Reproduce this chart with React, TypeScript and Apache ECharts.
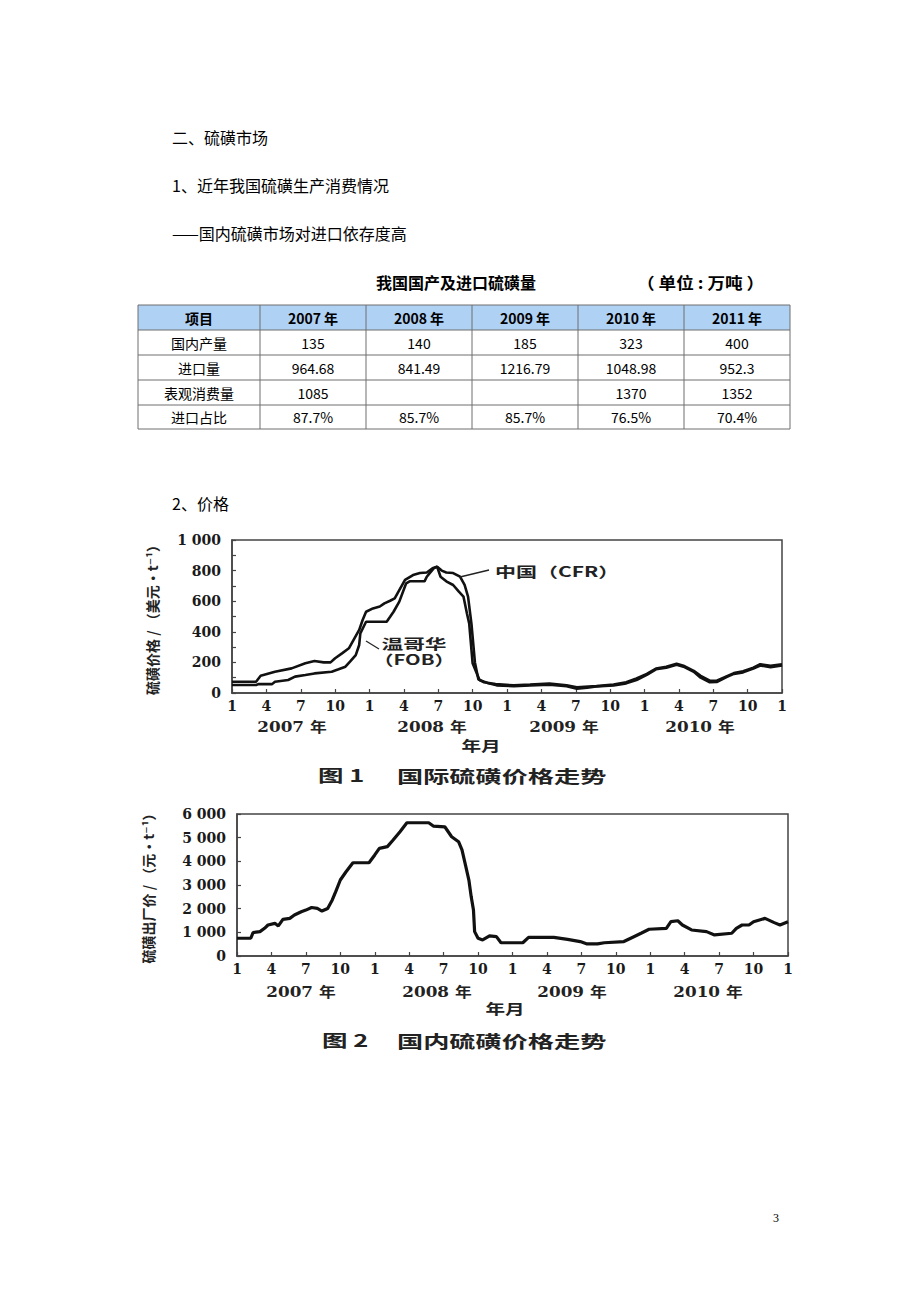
import React, { useEffect, useRef } from "react";
import * as echarts from "echarts";

// ---------- text content ----------
const headingLines = ["二、硫磺市场", "1、近年我国硫磺生产消费情况", "——国内硫磺市场对进口依存度高"];
const priceHeading = "2、价格";
const tableTitle = "我国国产及进口硫磺量";
const tableUnit = "（ 单位 : 万吨 ）";
const tableHeader = ["项目", "2007 年", "2008 年", "2009 年", "2010 年", "2011 年"];
const rowNames = ["国内产量", "进口量", "表观消费量", "进口占比"];
const domesticOutput = [135, 140, 185, 323, 400];
const importVolume = [964.68, 841.49, 1216.79, 1048.98, 952.3];
const apparentConsumption: (number | null)[] = [1085, null, null, 1370, 1352];
const importShare = [87.7, 85.7, 85.7, 76.5, 70.4];

const yearLabels = ["2007 年", "2008 年", "2009 年", "2010 年"];
const xAxisTitle = "年月";
const chart1YName = "硫磺价格 / （美元·t⁻¹）";
const chart2YName = "硫磺出厂价 / （元·t⁻¹）";
const chart1Caption = ["图 1", "国际硫磺价格走势"];
const chart2Caption = ["图 2", "国内硫磺价格走势"];
const cfrLabel = "中国（CFR）";
const fobLabel = ["温哥华", "（FOB）"];
const pageNumber = "3";

// ---------- series: [month index from Jan 2007, price] ----------
const cfrPrices: [number, number][] = [
  [0, 74], [2.1, 74], [2.5, 113], [3.75, 139], [5.2, 161], [6.4, 194], [7.2, 209], [8.0, 200],
  [8.6, 200], [9.0, 227], [9.6, 259], [10.2, 292], [10.6, 346], [11.1, 412], [11.4, 477], [11.7, 531],
  [12.3, 553], [12.9, 565], [13.3, 586], [13.8, 603], [14.2, 619], [14.6, 673], [15.1, 739], [15.8, 771],
  [16.4, 784], [17.0, 788], [17.5, 815], [17.9, 826], [18.3, 800], [18.7, 788], [19.3, 784], [19.9, 760],
  [20.3, 706], [20.6, 630], [20.9, 450], [21.2, 200], [21.5, 90], [22.0, 70], [23.0, 58], [24.6, 50],
  [26.0, 55], [27.7, 62], [29.2, 50], [30.1, 38], [31.8, 45], [33.3, 55], [34.4, 70], [35.3, 95],
  [36.2, 125], [37.0, 160], [37.9, 172], [38.8, 192], [39.4, 178], [40.3, 145], [40.9, 112], [41.7, 80],
  [42.3, 80], [43.2, 110], [43.8, 130], [44.6, 142], [45.5, 165], [46.1, 188], [47.0, 178], [48, 188],
];
const fobPrices: [number, number][] = [
  [0, 52], [2.1, 52], [2.3, 58], [3.5, 58], [3.75, 74], [4.9, 85], [5.5, 107], [6.4, 118], [7.2, 128],
  [8.7, 139], [9.3, 155], [9.9, 172], [10.3, 205], [10.8, 248], [11.1, 314], [11.2, 390], [11.7, 466],
  [13.5, 466], [13.8, 498], [14.1, 531], [14.6, 597], [15.2, 717], [15.5, 730], [16.8, 730], [17.0, 760],
  [17.6, 815], [17.9, 826], [18.2, 760], [18.7, 730], [19.3, 706], [19.8, 662], [20.2, 630], [20.5, 521],
  [20.7, 455], [21.0, 194], [21.6, 85], [22.3, 66], [23.1, 50], [24.6, 45], [26.0, 50], [27.7, 55],
  [29.2, 45], [30.1, 28], [31.0, 35], [31.8, 42], [33.3, 50], [34.4, 63], [35.3, 85], [36.2, 118],
  [37.0, 155], [37.9, 165], [38.8, 185], [39.4, 172], [40.3, 139], [40.9, 100], [41.7, 70], [42.3, 72],
  [43.2, 105], [43.8, 125], [44.6, 135], [45.5, 160], [46.1, 180], [47.0, 168], [48, 180],
];
const domesticPrices: [number, number][] = [
  [0, 750], [1.2, 750], [1.4, 990], [2.0, 1030], [2.4, 1170], [2.7, 1310], [3.3, 1380], [3.6, 1270],
  [4.0, 1550], [4.6, 1590], [5.0, 1730], [5.6, 1870], [6.0, 1940], [6.5, 2050], [7.0, 2010], [7.4, 1900],
  [7.9, 2010], [8.3, 2370], [8.6, 2720], [9.0, 3210], [9.5, 3560], [10.1, 3940], [11.5, 3940], [12.0, 4270],
  [12.4, 4550], [13.1, 4620], [13.6, 4900], [14.2, 5250], [14.8, 5630], [16.7, 5630], [17.1, 5490],
  [18.1, 5460], [18.7, 5040], [19.3, 4830], [19.6, 4480], [19.9, 3850], [20.2, 3210], [20.4, 2510],
  [20.6, 1940], [20.7, 1030], [21.0, 750], [21.4, 680], [22.0, 850], [22.6, 820], [23.0, 560], [24.9, 560],
  [25.4, 790], [27.6, 790], [28.8, 700], [29.9, 610], [30.5, 510], [31.4, 510], [32.0, 560], [33.7, 610],
  [34.3, 750], [35.2, 960], [35.9, 1130], [37.4, 1170], [37.8, 1450], [38.4, 1490], [38.8, 1310],
  [39.6, 1100], [40.9, 1030], [41.6, 890], [43.1, 960], [43.5, 1170], [44.0, 1310], [44.6, 1310],
  [45.0, 1450], [46.0, 1590], [46.8, 1410], [47.3, 1310], [48, 1450],
];

// ---------- layout ----------
const CJK = "'Noto Sans CJK SC', 'DejaVu Sans', sans-serif";
const SERIF_BOLD = "'DejaVu Serif', 'Noto Sans CJK SC', serif";
const colEdges = [138, 260, 366, 472, 578, 684, 790];
const rowEdges = [305, 330, 355, 380, 405, 429];

function txt(x: number, y: number, text: string, o: any = {}) {
  return {
    type: "text",
    x,
    y,
    z: 10,
    silent: true,
    scaleX: o.scaleX ?? 1,
    rotation: o.rotation ?? 0,
    style: {
      text,
      fill: o.color ?? "#000",
      fontSize: o.size ?? 16,
      fontFamily: o.family ?? CJK,
      fontWeight: o.weight ?? "normal",
      textAlign: o.align ?? "left",
      align: o.align ?? "left",
      textVerticalAlign: "middle",
      verticalAlign: "middle",
    },
  };
}

function fmtThousands(v: number) {
  if (v >= 1000) {
    const r = v % 1000;
    return Math.floor(v / 1000) + " " + String(r).padStart(3, "0");
  }
  return String(v);
}

function buildGraphic() {
  const g: any[] = [];
  const ys = [137, 185, 233];
  headingLines.forEach((t, i) => g.push(txt(172, ys[i], t, { size: 16 })));
  g.push(txt(172, 503, priceHeading, { size: 16 }));
  g.push(txt(456, 282, tableTitle, { size: 16, weight: "bold", align: "center" }));
  g.push(txt(637, 282, tableUnit, { size: 16, weight: "bold", scaleX: 1.1 }));

  // table
  g.push({
    type: "rect",
    z: 5,
    silent: true,
    shape: { x: colEdges[0], y: rowEdges[0], width: colEdges[6] - colEdges[0], height: rowEdges[1] - rowEdges[0] },
    style: { fill: "#afd1f4" },
  });
  rowEdges.forEach((y) =>
    g.push({
      type: "line",
      z: 6,
      silent: true,
      shape: { x1: colEdges[0], y1: y, x2: colEdges[6], y2: y },
      style: { stroke: "#6e6e6e", lineWidth: 1 },
    })
  );
  colEdges.forEach((x) =>
    g.push({
      type: "line",
      z: 6,
      silent: true,
      shape: { x1: x, y1: rowEdges[0], x2: x, y2: rowEdges[5] },
      style: { stroke: "#6e6e6e", lineWidth: 1 },
    })
  );
  const colCenter = (c: number) => (colEdges[c] + colEdges[c + 1]) / 2;
  const rowCenter = (r: number) => (rowEdges[r] + rowEdges[r + 1]) / 2;
  tableHeader.forEach((h, c) => g.push(txt(colCenter(c), rowCenter(0), h, { size: 14, weight: "bold", align: "center" })));
  const rows: string[][] = [
    domesticOutput.map((v) => String(v)),
    importVolume.map((v) => String(v)),
    apparentConsumption.map((v) => (v == null ? "" : String(v))),
    importShare.map((v) => v.toFixed(1) + "%"),
  ];
  rows.forEach((vals, r) => {
    g.push(txt(colCenter(0), rowCenter(r + 1), rowNames[r], { size: 14, align: "center" }));
    vals.forEach((v, c) => {
      if (v) g.push(txt(colCenter(c + 1), rowCenter(r + 1), v, { size: 14, align: "center" }));
    });
  });

  // chart 1 annotations
  g.push(txt(495, 571, cfrLabel, { size: 14, weight: "bold", scaleX: 1.5, color: "#222" }));
  g.push({ type: "line", z: 10, silent: true, shape: { x1: 460, y1: 577, x2: 489, y2: 570 }, style: { stroke: "#222", lineWidth: 1.3 } });
  g.push(txt(414, 643, fobLabel[0], { size: 14, weight: "bold", scaleX: 1.55, align: "center", color: "#222" }));
  g.push(txt(414, 659, fobLabel[1], { size: 14, weight: "bold", scaleX: 1.45, align: "center", color: "#222" }));
  g.push({ type: "line", z: 10, silent: true, shape: { x1: 366, y1: 641, x2: 379, y2: 649 }, style: { stroke: "#222", lineWidth: 1.3 } });

  const year1 = [292, 432, 564, 700];
  const year2 = [301, 437, 572, 708];
  yearLabels.forEach((t, i) => {
    g.push(txt(year1[i], 727, t, { size: 14, weight: "bold", family: SERIF_BOLD, align: "center", scaleX: 1.2, color: "#222" }));
    g.push(txt(year2[i], 992, t, { size: 14, weight: "bold", family: SERIF_BOLD, align: "center", scaleX: 1.2, color: "#222" }));
  });
  g.push(txt(481, 745, xAxisTitle, { size: 14, weight: "bold", align: "center", scaleX: 1.4, color: "#222" }));
  g.push(txt(505, 1008, xAxisTitle, { size: 14, weight: "bold", align: "center", scaleX: 1.4, color: "#222" }));

  g.push(txt(318, 775, chart1Caption[0], { size: 17, weight: "bold", scaleX: 1.5, color: "#222" }));
  g.push(txt(397, 775, chart1Caption[1], { size: 17, weight: "bold", scaleX: 1.54, color: "#222" }));
  g.push(txt(322, 1040, chart2Caption[0], { size: 17, weight: "bold", scaleX: 1.5, color: "#222" }));
  g.push(txt(397, 1040, chart2Caption[1], { size: 17, weight: "bold", scaleX: 1.54, color: "#222" }));

  g.push(txt(776, 1218, pageNumber, { size: 12, family: "'Liberation Serif', serif", align: "center" }));
  return g;
}

const monthLabel = (v: number) => String((Math.round(v) % 12) + 1);

const axisLabelStyle = {
  fontFamily: "'DejaVu Serif', serif",
  fontWeight: "bold" as const,
  fontSize: 14,
  color: "#1a1a1a",
};

function xAxisFor(gridIndex: number) {
  return {
    gridIndex,
    type: "value",
    min: 0,
    max: 48,
    interval: 3,
    axisLine: { show: true, lineStyle: { color: "#444", width: 1.5 } },
    axisTick: { show: true, inside: true, length: 4, lineStyle: { color: "#444", width: 1.2 } },
    splitLine: { show: false },
    axisLabel: { ...axisLabelStyle, margin: 6, showMinLabel: true, showMaxLabel: true, formatter: monthLabel },
  };
}

export default function App() {
  const ref = useRef<HTMLDivElement>(null);
  useEffect(() => {
    if (!ref.current) return;
    const chart = echarts.init(ref.current, null, { renderer: "svg" });
    chart.setOption({
      animation: false,
      backgroundColor: "#fff",
      grid: [
        { left: 232, top: 540, width: 550, height: 153, show: true, borderColor: "#444", borderWidth: 1.5 },
        { left: 237, top: 814, width: 551, height: 142, show: true, borderColor: "#444", borderWidth: 1.5 },
      ],
      xAxis: [xAxisFor(0), xAxisFor(1)],
      yAxis: [
        {
          gridIndex: 0,
          type: "value",
          min: 0,
          max: 1000,
          interval: 100,
          name: chart1YName,
          nameLocation: "middle",
          nameRotate: 90,
          nameGap: 73,
          nameTextStyle: { fontFamily: CJK, fontWeight: "bold", fontSize: 14, color: "#222" },
          axisLine: { show: true, lineStyle: { color: "#444", width: 1.5 } },
          axisTick: { show: true, inside: true, length: 4, lineStyle: { color: "#444", width: 1.2 } },
          splitLine: { show: false },
          axisLabel: {
            ...axisLabelStyle,
            margin: 11,
            showMinLabel: true,
            showMaxLabel: true,
            formatter: (v: number) => (v % 200 === 0 ? fmtThousands(v) : ""),
          },
        },
        {
          gridIndex: 1,
          type: "value",
          min: 0,
          max: 6000,
          interval: 1000,
          name: chart2YName,
          nameLocation: "middle",
          nameRotate: 90,
          nameGap: 82,
          nameTextStyle: { fontFamily: CJK, fontWeight: "bold", fontSize: 14, color: "#222" },
          axisLine: { show: true, lineStyle: { color: "#444", width: 1.5 } },
          axisTick: { show: true, inside: true, length: 4, lineStyle: { color: "#444", width: 1.2 } },
          splitLine: { show: false },
          axisLabel: { ...axisLabelStyle, margin: 11, showMinLabel: true, showMaxLabel: true, formatter: fmtThousands },
        },
      ],
      series: [
        {
          name: "中国（CFR）",
          type: "line",
          xAxisIndex: 0,
          yAxisIndex: 0,
          data: cfrPrices,
          showSymbol: false,
          symbol: "none",
          lineStyle: { color: "#111", width: 2.6 },
        },
        {
          name: "温哥华（FOB）",
          type: "line",
          xAxisIndex: 0,
          yAxisIndex: 0,
          data: fobPrices,
          showSymbol: false,
          symbol: "none",
          lineStyle: { color: "#111", width: 2.6 },
        },
        {
          name: "国内硫磺出厂价",
          type: "line",
          xAxisIndex: 1,
          yAxisIndex: 1,
          data: domesticPrices,
          showSymbol: false,
          symbol: "none",
          lineStyle: { color: "#111", width: 3.2 },
        },
      ],
      graphic: buildGraphic(),
    });
    return () => chart.dispose();
  }, []);
  return (
    <div
      ref={ref}
      style={{ position: "absolute", left: 0, top: 0, width: 920, height: 1302, background: "#fff" }}
    />
  );
}
